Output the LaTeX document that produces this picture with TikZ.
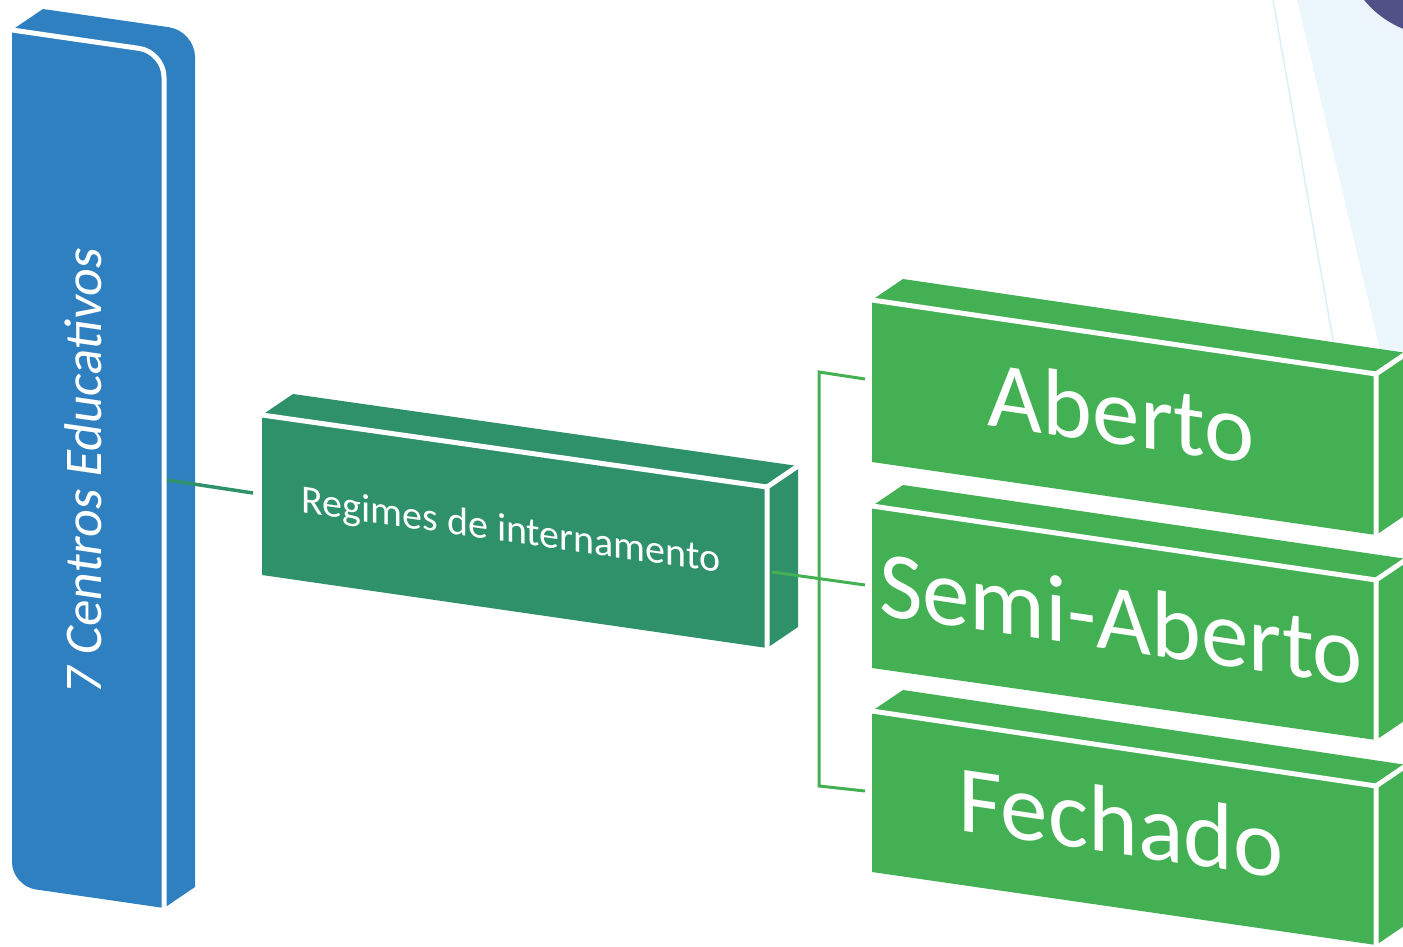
\documentclass[tikz,border=0pt]{standalone}
\usepackage{fontspec}
\setmainfont{Carlito}
\usetikzlibrary{calc}
\definecolor{bluebox}{RGB}{46,128,193}
\definecolor{darkgreen}{RGB}{46,145,106}
\definecolor{lightgreen}{RGB}{67,176,83}
\definecolor{raycol}{RGB}{236,247,253}
\definecolor{raylinecol}{RGB}{218,239,250}
\definecolor{navyc}{RGB}{80,82,135}
\definecolor{glowc}{RGB}{236,245,252}
\tikzset{
  edge/.style={white, line width=5pt},
  conn1/.style={darkgreen, line width=3.5pt},
  conn2/.style={lightgreen, line width=3pt},
  txt/.style={text=white, inner sep=0pt, transform shape},
}
\newcommand{\cubebox}[6]{%
  \coordinate (#1-tl) at #3;
  \coordinate (#1-tr) at #4;
  \coordinate (#1-br) at #5;
  \coordinate (#1-bl) at #6;
  \fill[#2] (#1-tl) -- ($(#1-tl)+(31,-21)$) -- ($(#1-tr)+(31,-21)$) -- ($(#1-br)+(31,-21)$) -- (#1-br) -- (#1-bl) -- cycle;
  \draw[edge] (#1-tl) -- (#1-tr) -- (#1-br);
  \draw[edge] (#1-tr) -- ($(#1-tr)+(31,-21)$);
}
\begin{document}
\begin{tikzpicture}[x=1pt,y=-1pt]
\useasboundingbox (0,0) rectangle (1403,947);
\clip (0,0) rectangle (1403,947);
% background decoration
\fill[raycol] (1297,0) -- (1403,0) -- (1403,447) -- cycle;
\draw[raylinecol, line width=1.5pt] (1273,0) -- (1333,340);
\fill[glowc] (1440,-62) circle (110);
\fill[navyc] (1440,-62) circle (98);
% blue bar
\fill[bluebox] (12,30) -- (43,9) [rounded corners=26pt] -- (195,31) -- (195,500) [sharp corners] -- (195,887) -- (164,908) -- (100,898.7) [rounded corners=24pt] -- (12,886) -- (12,500) [sharp corners] -- cycle;
\draw[edge] (12,30) -- (90,41.3) [rounded corners=25pt] -- (164,52) -- (164,400) [sharp corners] -- (164,908);
% boxes
\cubebox{reg}{darkgreen}{(262,415)}{(767,487)}{(767,648)}{(262,575)}
\cubebox{ab}{lightgreen}{(872,300)}{(1376,374)}{(1376,535)}{(872,462)}
\cubebox{sa}{lightgreen}{(872,506)}{(1376,580)}{(1376,740)}{(872,668)}
\cubebox{fe}{lightgreen}{(872,711)}{(1376,786)}{(1376,945)}{(872,872)}
% texts
\node[txt, font=\fontsize{53}{53}\selectfont, shift={(83,470)}, yslant=-0.145, rotate=90] (centros) at (0,0) {7 Centros Educativos};
\node[txt, font=\fontsize{40}{40}\selectfont, shift={(511,532)}, yslant=-0.142] (regimes) at (0,0) {Regimes de internamento};
\node[txt, font=\fontsize{95}{95}\selectfont, shift={(1121,412)}, yslant=-0.147] (aberto) at (0,0) {Aberto};
\node[txt, font=\fontsize{95}{95}\selectfont, shift={(1121,618)}, yslant=-0.147] (semi) at (0,0) {Semi-Aberto};
\node[txt, font=\fontsize{95}{95}\selectfont, shift={(1121,822)}, yslant=-0.147] (fechado) at (0,0) {Fechado};
% connectors
\coordinate (c1a) at (167,480);
\coordinate (c1b) at (253,493);
\draw[conn1] (c1a) -- (c1b);
\coordinate (c2a) at (772,572);
\coordinate (c2b) at (865,585);
\draw[conn2] (c2a) -- (c2b);
\coordinate (bt) at (819,372);
\coordinate (bte) at (865,379);
\coordinate (bb) at (819,786);
\coordinate (bbe) at (865,791);
\draw[conn2] (bte) -- (bt) -- (bb) -- (bbe);
\end{tikzpicture}
\end{document}
